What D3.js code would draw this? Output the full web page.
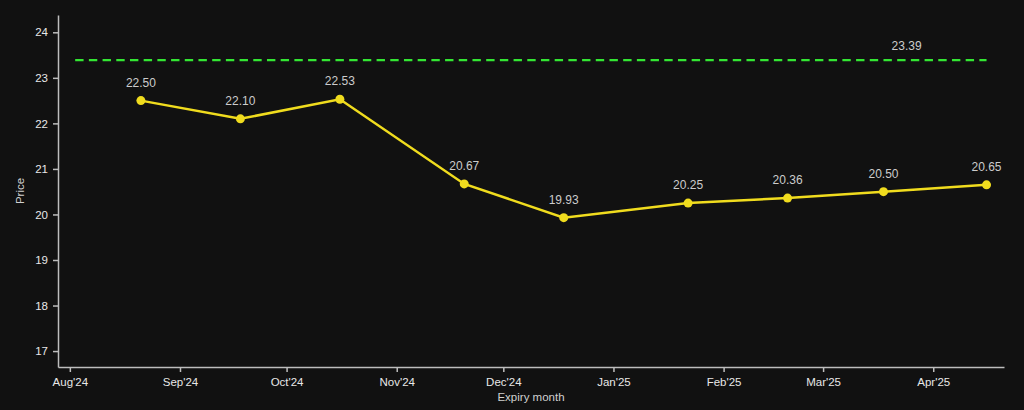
<!DOCTYPE html>
<html lang="en">
<head>
<meta charset="utf-8">
<script src="https://d3js.org/d3.v7.min.js"></script>
<style>
  html, body { margin: 0; padding: 0; background: #111111; }
  svg { display: block; font-family: "Liberation Sans", Arial, sans-serif; }
  .axis path, .axis line { stroke: #bdbdbd; stroke-width: 1.5; }
  .axis text { fill: #e8e8e8; font-size: 11.5px; }
</style>
</head>
<body>
<div id="chart"></div>
<script>
// expiry dates and futures prices
var expiries = ["2024-08-21", "2024-09-18", "2024-10-16", "2024-11-20", "2024-12-18",
                "2025-01-22", "2025-02-19", "2025-03-18", "2025-04-16"];
var prices = [22.50, 22.10, 22.53, 20.67, 19.93, 20.25, 20.36, 20.50, 20.65];

// reference (spot) level drawn as dashed line
var refValue = 23.39;
var refStart = "2024-08-02T12:00";
var refEnd = "2025-04-16";
var refLabelAt = "2025-03-24T12:00";

var xDomain = ["2024-07-28T16:00", "2025-04-20T22:00"];
var yDomain = [16.65, 24.38];
var yTicks = [17, 18, 19, 20, 21, 22, 23, 24];

var width = 1024;
var height = 410;
var margin = {top: 15, right: 20, bottom: 43, left: 58};

var parse = function(s) { return new Date(s.length > 10 ? s + ":00Z" : s + "T00:00:00Z"); };

var data = expiries.map(function(d, i) {
    return {date: parse(d), value: prices[i]};
});

var svg = d3.select("#chart")
    .append("svg")
    .attr("width", width)
    .attr("height", height);

svg.append("rect")
    .attr("width", width)
    .attr("height", height)
    .attr("fill", "#111111");

var xScale = d3.scaleUtc()
    .domain(xDomain.map(parse))
    .range([margin.left, width - margin.right]);

var yScale = d3.scaleLinear()
    .domain(yDomain)
    .range([height - margin.bottom, margin.top]);

// axes
var xAxis = d3.axisBottom(xScale)
    .ticks(d3.utcMonth.every(1))
    .tickFormat(d3.utcFormat("%b'%y"))
    .tickSize(5)
    .tickSizeOuter(0)
    .tickPadding(6);

var yAxis = d3.axisLeft(yScale)
    .tickValues(yTicks)
    .tickFormat(d3.format("d"))
    .tickSize(5)
    .tickSizeOuter(0)
    .tickPadding(5);

svg.append("g")
    .attr("class", "x axis")
    .attr("transform", "translate(0," + (height - margin.bottom) + ")")
    .call(xAxis);

svg.append("g")
    .attr("class", "y axis")
    .attr("transform", "translate(" + margin.left + ",0)")
    .call(yAxis);

// axis titles
svg.append("text")
    .attr("x", (margin.left + width - margin.right) / 2)
    .attr("y", 401)
    .attr("text-anchor", "middle")
    .attr("fill", "#d0d0d0")
    .style("font-size", "11.5px")
    .text("Expiry month");

svg.append("text")
    .attr("transform", "translate(24," + ((margin.top + height - margin.bottom) / 2) + ") rotate(-90)")
    .attr("text-anchor", "middle")
    .attr("fill", "#d0d0d0")
    .style("font-size", "11.5px")
    .text("Price");

// dashed reference line
svg.append("line")
    .attr("x1", xScale(parse(refStart)))
    .attr("x2", xScale(parse(refEnd)))
    .attr("y1", yScale(refValue))
    .attr("y2", yScale(refValue))
    .attr("stroke", "#33e633")
    .attr("stroke-width", 2.3)
    .attr("stroke-dasharray", "8.4,5.3");

svg.append("text")
    .attr("x", xScale(parse(refLabelAt)))
    .attr("y", yScale(refValue) - 10)
    .attr("text-anchor", "middle")
    .attr("fill", "#cccccc")
    .style("font-size", "12px")
    .text(refValue.toFixed(2));

// price line
var line = d3.line()
    .x(function(d) { return xScale(d.date); })
    .y(function(d) { return yScale(d.value); });

svg.append("path")
    .datum(data)
    .attr("d", line)
    .attr("fill", "none")
    .attr("stroke", "#f0dc1e")
    .attr("stroke-width", 2.5);

svg.append("g")
    .selectAll("circle")
    .data(data)
    .enter()
    .append("circle")
    .attr("cx", function(d) { return xScale(d.date); })
    .attr("cy", function(d) { return yScale(d.value); })
    .attr("r", 4.5)
    .attr("fill", "#f0dc1e");

svg.append("g")
    .selectAll("text")
    .data(data)
    .enter()
    .append("text")
    .attr("x", function(d) { return xScale(d.date); })
    .attr("y", function(d) { return yScale(d.value) - 14; })
    .attr("text-anchor", "middle")
    .attr("fill", "#cccccc")
    .style("font-size", "12px")
    .text(function(d) { return d.value.toFixed(2); });
</script>
</body>
</html>
